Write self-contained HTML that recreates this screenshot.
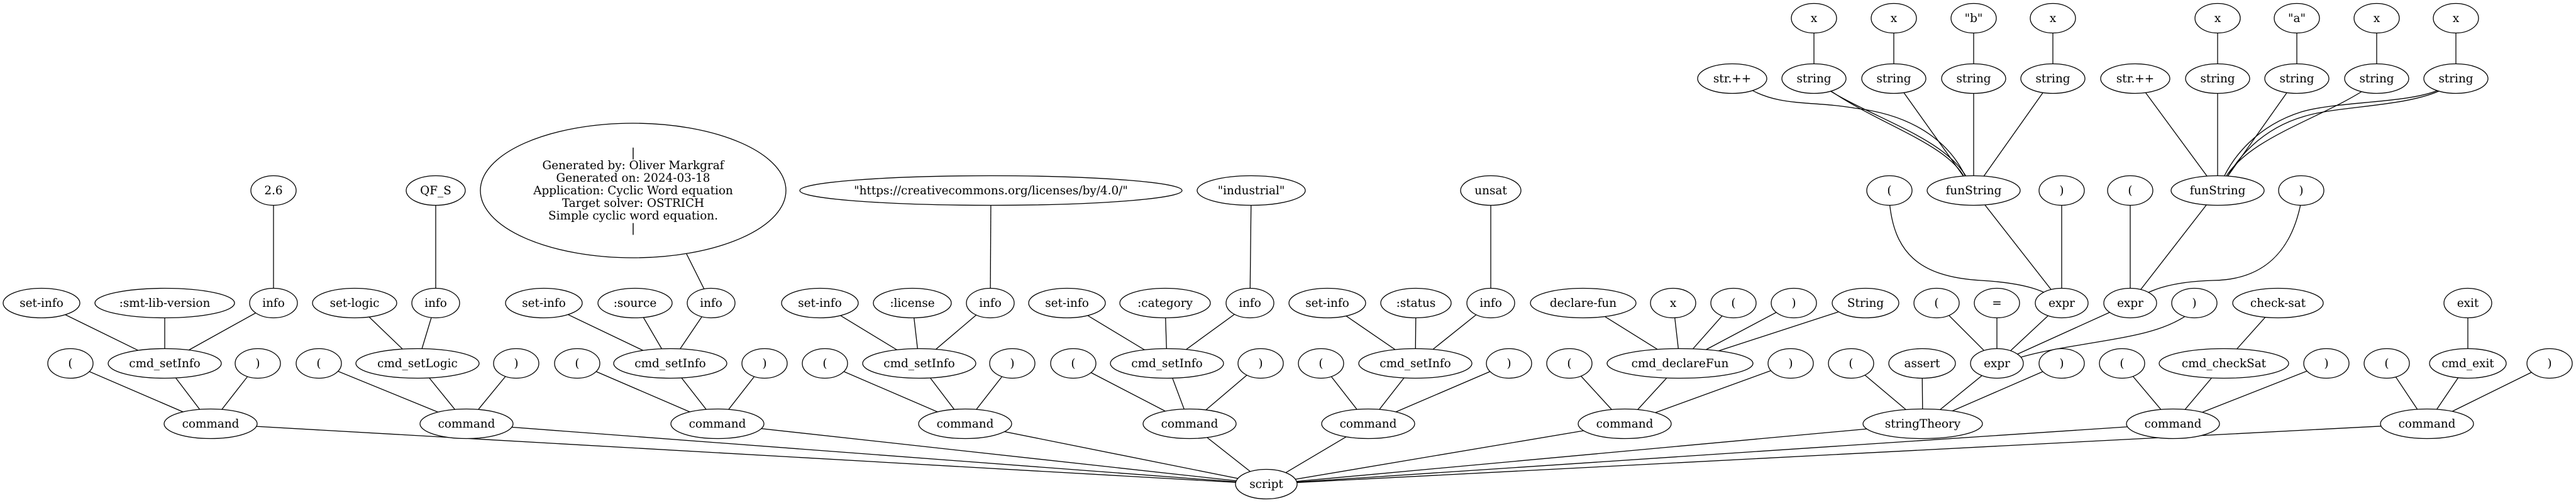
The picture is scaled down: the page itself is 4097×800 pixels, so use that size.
<!DOCTYPE html>
<html><head><meta charset="utf-8"><style>
html,body{margin:0;padding:0;background:#fff;}
svg{display:block;}
text{font-family:"DejaVu Serif","Liberation Serif",serif;font-size:18.4px;fill:#000;text-anchor:middle;}
ellipse{fill:#fff;stroke:#000;stroke-width:1.3;}
line,path{stroke:#000;stroke-width:1.3;fill:none;}
</style></head><body>
<svg width="4097" height="800" viewBox="0 0 4097 800" xmlns="http://www.w3.org/2000/svg">
<g>
<line x1="2014" y1="770" x2="335" y2="674"/><line x1="2014" y1="770" x2="742" y2="674"/><line x1="2014" y1="770" x2="1141" y2="674"/><line x1="2014" y1="770" x2="1535" y2="674"/><line x1="2014" y1="770" x2="1892" y2="674"/><line x1="2014" y1="770" x2="2176" y2="674"/><line x1="2014" y1="770" x2="2584" y2="674"/><line x1="2014" y1="770" x2="3058" y2="674"/><line x1="2014" y1="770" x2="3456" y2="674"/><line x1="2014" y1="770" x2="3860" y2="674"/>
<line x1="335" y1="674" x2="112" y2="578"/><line x1="335" y1="674" x2="262" y2="578"/><line x1="335" y1="674" x2="410" y2="578"/>
<line x1="742" y1="674" x2="507" y2="578"/><line x1="742" y1="674" x2="664" y2="578"/><line x1="742" y1="674" x2="821" y2="578"/>
<line x1="1141" y1="674" x2="918" y2="578"/><line x1="1141" y1="674" x2="1066" y2="578"/><line x1="1141" y1="674" x2="1216" y2="578"/>
<line x1="1535" y1="674" x2="1312" y2="578"/><line x1="1535" y1="674" x2="1462" y2="578"/><line x1="1535" y1="674" x2="1610" y2="578"/>
<line x1="1892" y1="674" x2="1707" y2="578"/><line x1="1892" y1="674" x2="1856" y2="578"/><line x1="1892" y1="674" x2="2005" y2="578"/>
<line x1="2176" y1="674" x2="2101" y2="578"/><line x1="2176" y1="674" x2="2251" y2="578"/><line x1="2176" y1="674" x2="2400" y2="578"/>
<line x1="2584" y1="674" x2="2496" y2="578"/><line x1="2584" y1="674" x2="2672" y2="578"/><line x1="2584" y1="674" x2="2848" y2="578"/>
<line x1="3058" y1="674" x2="2944" y2="578"/><line x1="3058" y1="674" x2="3057" y2="578"/><line x1="3058" y1="674" x2="3176" y2="578"/><line x1="3058" y1="674" x2="3279" y2="578"/>
<line x1="3456" y1="674" x2="3375" y2="578"/><line x1="3456" y1="674" x2="3537" y2="578"/><line x1="3456" y1="674" x2="3700" y2="578"/>
<line x1="3860" y1="674" x2="3796" y2="578"/><line x1="3860" y1="674" x2="3925" y2="578"/><line x1="3860" y1="674" x2="4055" y2="578"/>
<line x1="262" y1="578" x2="66" y2="482"/><line x1="262" y1="578" x2="262" y2="482"/><line x1="262" y1="578" x2="435" y2="482"/>
<line x1="664" y1="578" x2="564" y2="482"/><line x1="664" y1="578" x2="693" y2="482"/>
<line x1="1066" y1="578" x2="865" y2="482"/><line x1="1066" y1="578" x2="1010" y2="482"/><line x1="1066" y1="578" x2="1131" y2="482"/>
<line x1="1462" y1="578" x2="1304" y2="482"/><line x1="1462" y1="578" x2="1451" y2="482"/><line x1="1462" y1="578" x2="1575" y2="482"/>
<line x1="1856" y1="578" x2="1697" y2="482"/><line x1="1856" y1="578" x2="1853" y2="482"/><line x1="1856" y1="578" x2="1988" y2="482"/>
<line x1="2251" y1="578" x2="2111" y2="482"/><line x1="2251" y1="578" x2="2252" y2="482"/><line x1="2251" y1="578" x2="2371" y2="482"/>
<line x1="2672" y1="578" x2="2518" y2="482"/><line x1="2672" y1="578" x2="2661" y2="482"/><line x1="2672" y1="578" x2="2757" y2="482"/><line x1="2672" y1="578" x2="2853" y2="482"/><line x1="2672" y1="578" x2="2967" y2="482"/>
<line x1="3176" y1="578" x2="3080" y2="482"/><line x1="3176" y1="578" x2="3176" y2="482"/><line x1="3176" y1="578" x2="3279" y2="482"/><line x1="3176" y1="578" x2="3388" y2="482"/>
<path d="M3480,500 C3440,528 3390,535 3300,550 C3240,560 3210,568 3185,578"/>
<line x1="3537" y1="578" x2="3623" y2="482"/><line x1="3925" y1="578" x2="3925" y2="482"/>
<line x1="435" y1="482" x2="435" y2="303"/><line x1="693" y1="482" x2="693" y2="303"/><line x1="1131" y1="482" x2="1080" y2="380"/>
<line x1="1575" y1="482" x2="1576" y2="303"/><line x1="1988" y1="482" x2="1990" y2="303"/><line x1="2371" y1="482" x2="2371" y2="303"/>
<line x1="3279" y1="482" x2="3139" y2="303"/><line x1="3279" y1="482" x2="3279" y2="303"/>
<path d="M3005,320 C3012,400 3050,440 3150,446 C3220,450 3255,462 3279,482"/>
<line x1="3388" y1="482" x2="3388" y2="303"/><line x1="3388" y1="482" x2="3527" y2="303"/>
<path d="M3660,320 C3645,400 3600,445 3520,446 C3450,448 3415,462 3388,482"/>
<line x1="3139" y1="303" x2="3012" y2="125"/><line x1="3139" y1="303" x2="3139" y2="125"/><line x1="3139" y1="303" x2="3265" y2="125"/>
<path d="M2780,140 C2830,170 2880,160 2950,172 C3060,185 3110,240 3130,290"/>
<path d="M2900,138 C2980,190 3100,220 3132,290"/>
<path d="M2905,140 C2990,200 3105,230 3128,290"/>
<line x1="3527" y1="303" x2="3396" y2="125"/><line x1="3527" y1="303" x2="3527" y2="125"/><line x1="3527" y1="303" x2="3653" y2="125"/>
<path d="M3765,140 C3690,190 3570,220 3535,290"/>
<path d="M3885,140 C3840,165 3720,160 3660,178 C3590,200 3550,250 3533,290"/>
<path d="M3885,142 C3830,170 3720,168 3665,185 C3595,205 3555,255 3538,290"/>
<line x1="2885" y1="125" x2="2885" y2="29"/><line x1="3012" y1="125" x2="3012" y2="29"/><line x1="3139" y1="125" x2="3139" y2="29"/><line x1="3265" y1="125" x2="3265" y2="29"/>
<line x1="3527" y1="125" x2="3527" y2="29"/><line x1="3653" y1="125" x2="3653" y2="29"/><line x1="3780" y1="125" x2="3780" y2="29"/><line x1="3906" y1="125" x2="3906" y2="29"/>
</g>
<g>
<ellipse cx="2885" cy="29" rx="36" ry="23.5"/><text x="2885" y="29" dy="6">x</text>
<ellipse cx="3012" cy="29" rx="36" ry="23.5"/><text x="3012" y="29" dy="6">x</text>
<ellipse cx="3139" cy="29" rx="36" ry="23.5"/><text x="3139" y="29" dy="6">"b"</text>
<ellipse cx="3265" cy="29" rx="36" ry="23.5"/><text x="3265" y="29" dy="6">x</text>
<ellipse cx="3527" cy="29" rx="36" ry="23.5"/><text x="3527" y="29" dy="6">x</text>
<ellipse cx="3653" cy="29" rx="36" ry="23.5"/><text x="3653" y="29" dy="6">"a"</text>
<ellipse cx="3780" cy="29" rx="36" ry="23.5"/><text x="3780" y="29" dy="6">x</text>
<ellipse cx="3906" cy="29" rx="36" ry="23.5"/><text x="3906" y="29" dy="6">x</text>
<ellipse cx="2755" cy="125" rx="55" ry="23.5"/><text x="2755" y="125" dy="6">str.++</text>
<ellipse cx="2885" cy="125" rx="51" ry="23.5"/><text x="2885" y="125" dy="6">string</text>
<ellipse cx="3012" cy="125" rx="51" ry="23.5"/><text x="3012" y="125" dy="6">string</text>
<ellipse cx="3139" cy="125" rx="51" ry="23.5"/><text x="3139" y="125" dy="6">string</text>
<ellipse cx="3265" cy="125" rx="51" ry="23.5"/><text x="3265" y="125" dy="6">string</text>
<ellipse cx="3396" cy="125" rx="55" ry="23.5"/><text x="3396" y="125" dy="6">str.++</text>
<ellipse cx="3527" cy="125" rx="51" ry="23.5"/><text x="3527" y="125" dy="6">string</text>
<ellipse cx="3653" cy="125" rx="51" ry="23.5"/><text x="3653" y="125" dy="6">string</text>
<ellipse cx="3780" cy="125" rx="51" ry="23.5"/><text x="3780" y="125" dy="6">string</text>
<ellipse cx="3906" cy="125" rx="51" ry="23.5"/><text x="3906" y="125" dy="6">string</text>
<ellipse cx="435" cy="303" rx="36" ry="23.5"/><text x="435" y="303" dy="6">2.6</text>
<ellipse cx="693" cy="303" rx="47" ry="23.5"/><text x="693" y="303" dy="6">QF_S</text>
<ellipse cx="1007" cy="303" rx="243" ry="107"/>
<text x="1007" y="243" dy="6">|</text>
<text x="1007" y="263" dy="6">Generated by: Oliver Markgraf</text>
<text x="1007" y="283" dy="6">Generated on: 2024-03-18</text>
<text x="1007" y="303" dy="6">Application: Cyclic Word equation</text>
<text x="1007" y="323" dy="6">Target solver: OSTRICH</text>
<text x="1007" y="343" dy="6">Simple cyclic word equation.</text>
<text x="1007" y="363" dy="6">|</text>
<ellipse cx="1576" cy="303" rx="304" ry="23.5"/><text x="1576" y="303" dy="6">"https://creativecommons.org/licenses/by/4.0/"</text>
<ellipse cx="1990" cy="303" rx="86" ry="23.5"/><text x="1990" y="303" dy="6">"industrial"</text>
<ellipse cx="2371" cy="303" rx="48" ry="23.5"/><text x="2371" y="303" dy="6">unsat</text>
<ellipse cx="3005" cy="303" rx="36" ry="23.5"/><text x="3005" y="303" dy="6">(</text>
<ellipse cx="3139" cy="303" rx="74" ry="23.5"/><text x="3139" y="303" dy="6">funString</text>
<ellipse cx="3279" cy="303" rx="36" ry="23.5"/><text x="3279" y="303" dy="6">)</text>
<ellipse cx="3388" cy="303" rx="36" ry="23.5"/><text x="3388" y="303" dy="6">(</text>
<ellipse cx="3527" cy="303" rx="74" ry="23.5"/><text x="3527" y="303" dy="6">funString</text>
<ellipse cx="3660" cy="303" rx="36" ry="23.5"/><text x="3660" y="303" dy="6">)</text>
<ellipse cx="66" cy="482" rx="61" ry="23.5"/><text x="66" y="482" dy="6">set-info</text>
<ellipse cx="262" cy="482" rx="111" ry="23.5"/><text x="262" y="482" dy="6">:smt-lib-version</text>
<ellipse cx="435" cy="482" rx="38" ry="23.5"/><text x="435" y="482" dy="6">info</text>
<ellipse cx="564" cy="482" rx="67" ry="23.5"/><text x="564" y="482" dy="6">set-logic</text>
<ellipse cx="693" cy="482" rx="38" ry="23.5"/><text x="693" y="482" dy="6">info</text>
<ellipse cx="865" cy="482" rx="61" ry="23.5"/><text x="865" y="482" dy="6">set-info</text>
<ellipse cx="1010" cy="482" rx="59" ry="23.5"/><text x="1010" y="482" dy="6">:source</text>
<ellipse cx="1131" cy="482" rx="38" ry="23.5"/><text x="1131" y="482" dy="6">info</text>
<ellipse cx="1304" cy="482" rx="61" ry="23.5"/><text x="1304" y="482" dy="6">set-info</text>
<ellipse cx="1451" cy="482" rx="62" ry="23.5"/><text x="1451" y="482" dy="6">:license</text>
<ellipse cx="1575" cy="482" rx="38" ry="23.5"/><text x="1575" y="482" dy="6">info</text>
<ellipse cx="1697" cy="482" rx="61" ry="23.5"/><text x="1697" y="482" dy="6">set-info</text>
<ellipse cx="1853" cy="482" rx="72" ry="23.5"/><text x="1853" y="482" dy="6">:category</text>
<ellipse cx="1988" cy="482" rx="38" ry="23.5"/><text x="1988" y="482" dy="6">info</text>
<ellipse cx="2111" cy="482" rx="61" ry="23.5"/><text x="2111" y="482" dy="6">set-info</text>
<ellipse cx="2252" cy="482" rx="56" ry="23.5"/><text x="2252" y="482" dy="6">:status</text>
<ellipse cx="2371" cy="482" rx="38" ry="23.5"/><text x="2371" y="482" dy="6">info</text>
<ellipse cx="2518" cy="482" rx="84" ry="23.5"/><text x="2518" y="482" dy="6">declare-fun</text>
<ellipse cx="2661" cy="482" rx="36" ry="23.5"/><text x="2661" y="482" dy="6">x</text>
<ellipse cx="2757" cy="482" rx="36" ry="23.5"/><text x="2757" y="482" dy="6">(</text>
<ellipse cx="2853" cy="482" rx="36" ry="23.5"/><text x="2853" y="482" dy="6">)</text>
<ellipse cx="2967" cy="482" rx="53" ry="23.5"/><text x="2967" y="482" dy="6">String</text>
<ellipse cx="3080" cy="482" rx="36" ry="23.5"/><text x="3080" y="482" dy="6">(</text>
<ellipse cx="3176" cy="482" rx="36" ry="23.5"/><text x="3176" y="482" dy="6">=</text>
<ellipse cx="3279" cy="482" rx="42" ry="23.5"/><text x="3279" y="482" dy="6">expr</text>
<ellipse cx="3388" cy="482" rx="42" ry="23.5"/><text x="3388" y="482" dy="6">expr</text>
<ellipse cx="3490" cy="482" rx="36" ry="23.5"/><text x="3490" y="482" dy="6">)</text>
<ellipse cx="3623" cy="482" rx="72" ry="23.5"/><text x="3623" y="482" dy="6">check-sat</text>
<ellipse cx="3925" cy="482" rx="38" ry="23.5"/><text x="3925" y="482" dy="6">exit</text>
<ellipse cx="112" cy="578" rx="36" ry="23.5"/><text x="112" y="578" dy="6">(</text>
<ellipse cx="262" cy="578" rx="90" ry="23.5"/><text x="262" y="578" dy="6">cmd_setInfo</text>
<ellipse cx="410" cy="578" rx="36" ry="23.5"/><text x="410" y="578" dy="6">)</text>
<ellipse cx="507" cy="578" rx="36" ry="23.5"/><text x="507" y="578" dy="6">(</text>
<ellipse cx="664" cy="578" rx="98" ry="23.5"/><text x="664" y="578" dy="6">cmd_setLogic</text>
<ellipse cx="821" cy="578" rx="36" ry="23.5"/><text x="821" y="578" dy="6">)</text>
<ellipse cx="918" cy="578" rx="36" ry="23.5"/><text x="918" y="578" dy="6">(</text>
<ellipse cx="1066" cy="578" rx="90" ry="23.5"/><text x="1066" y="578" dy="6">cmd_setInfo</text>
<ellipse cx="1216" cy="578" rx="36" ry="23.5"/><text x="1216" y="578" dy="6">)</text>
<ellipse cx="1312" cy="578" rx="36" ry="23.5"/><text x="1312" y="578" dy="6">(</text>
<ellipse cx="1462" cy="578" rx="90" ry="23.5"/><text x="1462" y="578" dy="6">cmd_setInfo</text>
<ellipse cx="1610" cy="578" rx="36" ry="23.5"/><text x="1610" y="578" dy="6">)</text>
<ellipse cx="1707" cy="578" rx="36" ry="23.5"/><text x="1707" y="578" dy="6">(</text>
<ellipse cx="1856" cy="578" rx="90" ry="23.5"/><text x="1856" y="578" dy="6">cmd_setInfo</text>
<ellipse cx="2005" cy="578" rx="36" ry="23.5"/><text x="2005" y="578" dy="6">)</text>
<ellipse cx="2101" cy="578" rx="36" ry="23.5"/><text x="2101" y="578" dy="6">(</text>
<ellipse cx="2251" cy="578" rx="90" ry="23.5"/><text x="2251" y="578" dy="6">cmd_setInfo</text>
<ellipse cx="2400" cy="578" rx="36" ry="23.5"/><text x="2400" y="578" dy="6">)</text>
<ellipse cx="2496" cy="578" rx="36" ry="23.5"/><text x="2496" y="578" dy="6">(</text>
<ellipse cx="2672" cy="578" rx="116" ry="23.5"/><text x="2672" y="578" dy="6">cmd_declareFun</text>
<ellipse cx="2848" cy="578" rx="36" ry="23.5"/><text x="2848" y="578" dy="6">)</text>
<ellipse cx="2944" cy="578" rx="36" ry="23.5"/><text x="2944" y="578" dy="6">(</text>
<ellipse cx="3057" cy="578" rx="53" ry="23.5"/><text x="3057" y="578" dy="6">assert</text>
<ellipse cx="3176" cy="578" rx="42" ry="23.5"/><text x="3176" y="578" dy="6">expr</text>
<ellipse cx="3279" cy="578" rx="36" ry="23.5"/><text x="3279" y="578" dy="6">)</text>
<ellipse cx="3375" cy="578" rx="36" ry="23.5"/><text x="3375" y="578" dy="6">(</text>
<ellipse cx="3537" cy="578" rx="103" ry="23.5"/><text x="3537" y="578" dy="6">cmd_checkSat</text>
<ellipse cx="3700" cy="578" rx="36" ry="23.5"/><text x="3700" y="578" dy="6">)</text>
<ellipse cx="3796" cy="578" rx="36" ry="23.5"/><text x="3796" y="578" dy="6">(</text>
<ellipse cx="3925" cy="578" rx="61" ry="23.5"/><text x="3925" y="578" dy="6">cmd_exit</text>
<ellipse cx="4055" cy="578" rx="36" ry="23.5"/><text x="4055" y="578" dy="6">)</text>
<ellipse cx="335" cy="674" rx="74" ry="23.5"/><text x="335" y="674" dy="6">command</text>
<ellipse cx="742" cy="674" rx="74" ry="23.5"/><text x="742" y="674" dy="6">command</text>
<ellipse cx="1141" cy="674" rx="74" ry="23.5"/><text x="1141" y="674" dy="6">command</text>
<ellipse cx="1535" cy="674" rx="74" ry="23.5"/><text x="1535" y="674" dy="6">command</text>
<ellipse cx="1892" cy="674" rx="74" ry="23.5"/><text x="1892" y="674" dy="6">command</text>
<ellipse cx="2176" cy="674" rx="74" ry="23.5"/><text x="2176" y="674" dy="6">command</text>
<ellipse cx="2584" cy="674" rx="74" ry="23.5"/><text x="2584" y="674" dy="6">command</text>
<ellipse cx="3058" cy="674" rx="95" ry="23.5"/><text x="3058" y="674" dy="6">stringTheory</text>
<ellipse cx="3456" cy="674" rx="74" ry="23.5"/><text x="3456" y="674" dy="6">command</text>
<ellipse cx="3860" cy="674" rx="74" ry="23.5"/><text x="3860" y="674" dy="6">command</text>
<ellipse cx="2014" cy="770" rx="49" ry="23.5"/><text x="2014" y="770" dy="6">script</text>
</g>
</svg>
</body></html>
